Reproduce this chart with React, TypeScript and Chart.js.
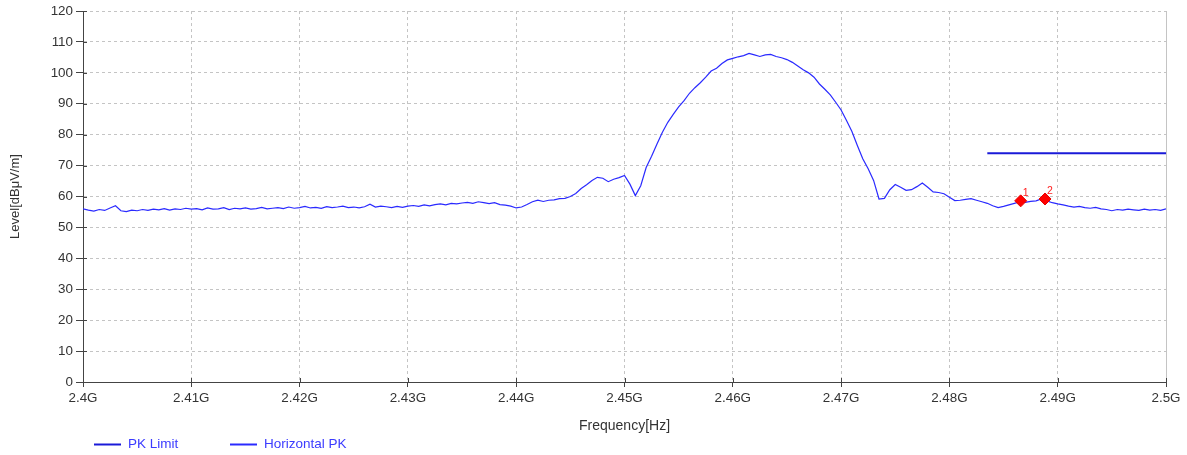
import { useEffect, useRef } from "react";
import { Chart, registerables } from "chart.js";

Chart.register(...registerables);

// Sweep grid (GHz)
const SWEEP_START_GHZ = 2.4;
const SWEEP_STEP_GHZ = 0.0005;

// Horizontal PK trace, dBµV/m, one value per sweep step (2.4000 ... 2.5000 GHz)
const horizontalPk = [
  56.0, 55.6, 55.3, 55.8, 55.5, 56.3, 57.0, 55.4, 55.1, 55.6,
  55.4, 55.8, 55.5, 55.9, 55.7, 56.1, 55.6, 56.0, 55.8, 56.2,
  55.9, 56.1, 55.7, 56.3, 55.9, 56.0, 56.4, 55.8, 56.2, 56.0,
  56.3, 55.9, 56.1, 56.5, 56.0, 56.2, 56.4, 56.1, 56.6, 56.2,
  56.4, 56.8, 56.3, 56.5, 56.2, 56.7, 56.4, 56.6, 56.9, 56.4,
  56.6, 56.3, 56.7, 57.5, 56.6, 56.9, 56.7, 56.4, 56.8, 56.5,
  56.9, 57.1, 56.8, 57.3, 57.0, 57.4, 57.6, 57.3, 57.8, 57.6,
  57.9, 58.1, 57.8, 58.3, 58.0, 57.7, 58.0, 57.4, 57.2, 56.9,
  56.3, 56.6, 57.4, 58.3, 58.8, 58.4, 58.8, 58.9, 59.3, 59.4,
  60.0, 61.0, 62.6, 63.8, 65.2, 66.2, 65.9, 64.8, 65.6, 66.1,
  66.8, 64.0, 60.3, 63.5, 69.4, 73.0, 77.0, 80.8, 84.0, 86.6,
  89.0, 91.0, 93.4, 95.2, 96.8, 98.6, 100.6, 101.5, 103.0, 104.2,
  104.7, 105.2, 105.6, 106.3, 105.8, 105.3, 105.8, 106.0, 105.3, 104.9,
  104.3, 103.4, 102.2, 101.0, 100.0, 98.6, 96.4, 94.7, 92.9, 90.5,
  88.0, 84.6, 81.0, 76.5, 72.2, 69.0, 65.2, 59.2, 59.4, 62.2,
  63.9, 63.0, 62.0, 62.2, 63.2, 64.4, 63.0, 61.5, 61.3, 60.9,
  59.8, 58.7, 58.8, 59.1, 59.3, 58.8, 58.3, 57.8, 57.0, 56.4,
  56.8, 57.3, 57.8, 58.3, 58.1, 58.4, 58.6, 59.2, 58.6, 58.0,
  57.6, 57.3, 56.9, 56.6, 56.8, 56.4, 56.2, 56.5, 56.0, 55.8,
  55.4, 55.8, 55.6, 55.9, 55.7, 55.5, 55.9, 55.6, 55.8, 55.5,
  56.0,
];

// PK limit line (restricted band)
const limitFreqs = [2.4835, 2.5];
const limitLevels = [74, 74];

// Markers
const markerFreqs = [2.48658, 2.48883];
const markerLevels = [58.6, 59.2];
const markerLabels = ["1", "2"];

// Axis ticks
const xTickValues = [2.4, 2.41, 2.42, 2.43, 2.44, 2.45, 2.46, 2.47, 2.48, 2.49, 2.5];
const yTickValues = [0, 10, 20, 30, 40, 50, 60, 70, 80, 90, 100, 110, 120];

const xTitle = "Frequency[Hz]";
const yTitle = "Level[dBμV/m]";
const legendLabels = ["PK Limit", "Horizontal PK"];

const FONT = "'Liberation Sans', Arial, sans-serif";
const TRACE_COLOR = "#2a2aff";
const LIMIT_COLOR = "#1a1ad8";
const LEGEND_TEXT = "#3b3bff";
const AXIS_COLOR = "#444444";
const GRID_COLOR = "#c4c4c4";
const LABEL_COLOR = "#333333";

const fmtG = (v: number) => `${Math.round(v * 1000) / 1000}G`;

const decorPlugin = {
  id: "decor",
  afterDraw(chart: any) {
    const { ctx, chartArea } = chart;
    const xs = chart.scales.x;
    const ys = chart.scales.y;
    ctx.save();
    // right frame line
    ctx.strokeStyle = GRID_COLOR;
    ctx.lineWidth = 1;
    ctx.beginPath();
    ctx.moveTo(Math.round(chartArea.right) + 0.5, chartArea.top);
    ctx.lineTo(Math.round(chartArea.right) + 0.5, chartArea.bottom);
    ctx.stroke();
    // inner tick parts
    ctx.strokeStyle = AXIS_COLOR;
    ctx.beginPath();
    for (const v of yTickValues) {
      const y = Math.round(ys.getPixelForValue(v)) + 0.5;
      ctx.moveTo(chartArea.left, y);
      ctx.lineTo(chartArea.left + 4, y);
    }
    for (const v of xTickValues) {
      const x = Math.round(xs.getPixelForValue(v)) + 0.5;
      ctx.moveTo(x, chartArea.bottom);
      ctx.lineTo(x, chartArea.bottom - 4);
    }
    ctx.stroke();
    // marker labels
    ctx.fillStyle = "#ff2020";
    ctx.font = `10.5px ${FONT}`;
    ctx.textAlign = "left";
    ctx.textBaseline = "middle";
    markerFreqs.forEach((f, i) => {
      const x = xs.getPixelForValue(f);
      const y = ys.getPixelForValue(markerLevels[i]);
      ctx.fillText(markerLabels[i], x + 2, y - 8);
    });
    // axis titles
    ctx.fillStyle = LABEL_COLOR;
    ctx.textAlign = "center";
    ctx.textBaseline = "middle";
    ctx.font = `14px ${FONT}`;
    ctx.fillText(xTitle, (chartArea.left + chartArea.right) / 2, 426);
    ctx.font = `13px ${FONT}`;
    ctx.save();
    ctx.translate(15, (chartArea.top + chartArea.bottom) / 2);
    ctx.rotate(-Math.PI / 2);
    ctx.fillText(yTitle, 0, 0);
    ctx.restore();
    // legend
    const legendColors = [LIMIT_COLOR, TRACE_COLOR];
    const legendX = [94, 230];
    ctx.textAlign = "left";
    ctx.font = `13.5px ${FONT}`;
    legendLabels.forEach((lab, i) => {
      ctx.strokeStyle = legendColors[i];
      ctx.lineWidth = 2;
      ctx.beginPath();
      ctx.moveTo(legendX[i], 444.5);
      ctx.lineTo(legendX[i] + 27, 444.5);
      ctx.stroke();
      ctx.fillStyle = LEGEND_TEXT;
      ctx.fillText(lab, legendX[i] + 34, 444);
    });
    ctx.restore();
  },
};

export default function App() {
  const canvasRef = useRef<HTMLCanvasElement | null>(null);

  useEffect(() => {
    if (!canvasRef.current) return;
    const traceData = horizontalPk.map((y, i) => ({ x: SWEEP_START_GHZ + i * SWEEP_STEP_GHZ, y }));
    const limitData = limitFreqs.map((x, i) => ({ x, y: limitLevels[i] }));
    const markerData = markerFreqs.map((x, i) => ({ x, y: markerLevels[i] }));

    const chart = new Chart(canvasRef.current, {
      type: "line",
      data: {
        datasets: [
          {
            label: "Markers",
            data: markerData,
            showLine: false,
            pointStyle: "rectRot",
            pointRadius: 6,
            pointBackgroundColor: "#ff0000",
            pointBorderColor: "#e60000",
            pointBorderWidth: 1,
            order: 0,
          },
          {
            label: legendLabels[0],
            data: limitData,
            borderColor: LIMIT_COLOR,
            borderWidth: 2,
            pointRadius: 0,
            order: 1,
          },
          {
            label: legendLabels[1],
            data: traceData,
            borderColor: TRACE_COLOR,
            borderWidth: 1.2,
            pointRadius: 0,
            tension: 0,
            order: 2,
          },
        ],
      },
      options: {
        responsive: false,
        animation: false,
        events: [],
        layout: { padding: { top: 11, right: 21, left: 0, bottom: 0 } },
        plugins: {
          legend: { display: false },
          tooltip: { enabled: false },
          title: { display: false },
        },
        scales: {
          x: {
            type: "linear",
            min: 2.4,
            max: 2.5,
            afterBuildTicks: (s: any) => {
              s.ticks = xTickValues.map((value) => ({ value }));
            },
            afterFit: (s: any) => {
              s.height = 73;
            },
            ticks: {
              callback: (v: any) => fmtG(Number(v)),
              font: { size: 13.4, family: FONT },
              color: LABEL_COLOR,
              padding: 3,
              maxRotation: 0,
              autoSkip: false,
            },
            grid: { color: GRID_COLOR, tickColor: AXIS_COLOR, tickLength: 5, lineWidth: 1 },
            border: { color: AXIS_COLOR, width: 1, dash: [3, 3] },
          },
          y: {
            type: "linear",
            min: 0,
            max: 120,
            afterBuildTicks: (s: any) => {
              s.ticks = yTickValues.map((value) => ({ value }));
            },
            afterFit: (s: any) => {
              s.width = 83;
            },
            ticks: {
              font: { size: 13.4, family: FONT },
              color: LABEL_COLOR,
              padding: 3,
            },
            grid: { color: GRID_COLOR, tickColor: AXIS_COLOR, tickLength: 7, lineWidth: 1 },
            border: { color: AXIS_COLOR, width: 1, dash: [3, 3] },
          },
        },
      },
      plugins: [decorPlugin],
    } as any);

    return () => chart.destroy();
  }, []);

  return (
    <div style={{ position: "absolute", left: 0, top: 0, width: 1187, height: 455, background: "#fff" }}>
      <canvas ref={canvasRef} width={1187} height={455} style={{ display: "block" }} />
    </div>
  );
}
